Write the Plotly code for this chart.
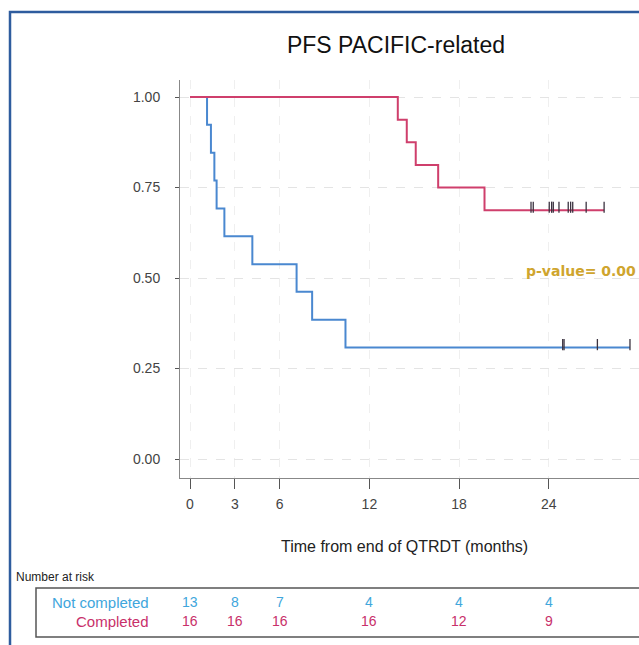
import plotly.graph_objects as go

# ---------------- data ----------------
nc_event_times = [0, 1.14, 1.40, 1.63, 1.78, 2.30, 4.17, 7.13, 8.17, 10.40]
nc_surv = [1.0, 0.923, 0.846, 0.769, 0.692, 0.615, 0.538, 0.462, 0.385, 0.308]
nc_censor_times = [24.93, 25.02, 27.25, 29.43]

c_event_times = [0, 13.9, 14.5, 15.1, 16.6, 19.7]
c_surv = [1.0, 0.9375, 0.875, 0.8125, 0.75, 0.6875]
c_censor_times = [22.81, 22.96, 24.03, 24.19, 24.30, 24.68, 25.30, 25.46, 25.60, 26.50, 27.70]

risk_times = [0, 3, 6, 12, 18, 24]
risk_not_completed = [13, 8, 7, 4, 4, 4]
risk_completed = [16, 16, 16, 16, 12, 9]

x_ticks = [0, 3, 6, 12, 18, 24]
y_ticks = [0, 0.25, 0.5, 0.75, 1.0]
y_tick_labels = ["0.00", "0.25", "0.50", "0.75", "1.00"]

group_names = ["Not completed", "Completed"]
title_text = "PFS PACIFIC-related"
x_title = "Time from end of QTRDT (months)"
p_text = "p-value= 0.00"

# ---------------- styles ----------------
BLUE = "#4a88d0"
RED = "#cf3f6c"
BLUE_TXT = "#40a6dc"
RED_TXT = "#c8306a"
FONT = "Liberation Sans, Arial, sans-serif"

W, H = 639, 645
L, R, T, B = 180, 0, 80, 167
PW, PH = W - L - R, H - T - B


def px_x(px):
    return (px - L) / PW


def px_y(py):
    return (H - B - py) / PH


def step_xy(times, surv, censors):
    xs = list(times) + [max(censors)]
    ys = list(surv) + [surv[-1]]
    return xs, ys


fig = go.Figure()

for times, surv, cens, col, name in [
    (nc_event_times, nc_surv, nc_censor_times, BLUE, group_names[0]),
    (c_event_times, c_surv, c_censor_times, RED, group_names[1]),
]:
    xs, ys = step_xy(times, surv, cens)
    fig.add_trace(go.Scatter(x=xs, y=ys, mode="lines", line=dict(color=col, width=2, shape="hv"),
                             name=name, showlegend=False, hoverinfo="skip"))
    fig.add_trace(go.Scatter(x=cens, y=[surv[-1] + 0.008] * len(cens), mode="markers",
                             marker=dict(symbol="line-ns", size=8,
                                         line=dict(width=1.3, color="#3b3340")),
                             showlegend=False, hoverinfo="skip"))

annotations = []
# p-value
annotations.append(dict(x=px_x(524), y=px_y(271), xref="paper", yref="paper", text="<b>" + p_text + "</b>",
                        showarrow=False, xanchor="left", yanchor="middle",
                        font=dict(family="DejaVu Sans, Verdana, sans-serif", size=14, color="#cfa52e")))
# x-axis title
annotations.append(dict(x=px_x(404), y=px_y(546), xref="paper", yref="paper", text=x_title,
                        showarrow=False, xanchor="center", yanchor="middle",
                        font=dict(family=FONT, size=16, color="#222")))
# number at risk
annotations.append(dict(x=px_x(14), y=px_y(577), xref="paper", yref="paper", text="Number at risk",
                        showarrow=False, xanchor="left", yanchor="middle",
                        font=dict(family=FONT, size=12, color="#222")))
# group labels
for name, py, col in [(group_names[0], 602, BLUE_TXT), (group_names[1], 621, RED_TXT)]:
    annotations.append(dict(x=px_x(151), y=px_y(py), xref="paper", yref="paper", text=name,
                            showarrow=False, xanchor="right", yanchor="middle",
                            font=dict(family=FONT, size=15, color=col)))
# risk numbers
for vals, py, col in [(risk_not_completed, 602, BLUE_TXT), (risk_completed, 621, RED_TXT)]:
    for t, v in zip(risk_times, vals):
        annotations.append(dict(x=t, y=px_y(py), xref="x", yref="paper", text=str(v),
                                showarrow=False, xanchor="center", yanchor="middle",
                                font=dict(family=FONT, size=14, color=col)))

shapes = [
    # risk table box
    dict(type="rect", xref="paper", yref="paper", x0=px_x(36), x1=px_x(660), y0=px_y(637), y1=px_y(588),
         line=dict(color="#555", width=1.5), fillcolor="rgba(0,0,0,0)", layer="above"),
    # outer blue frame
    dict(type="rect", xref="paper", yref="paper", x0=px_x(10), x1=px_x(700), y0=px_y(700), y1=px_y(12),
         line=dict(color="#2e5c9e", width=2.5), fillcolor="rgba(0,0,0,0)", layer="above"),
]

fig.update_layout(
    width=W, height=H,
    margin=dict(l=L, r=R, t=T, b=B, pad=0),
    paper_bgcolor="white", plot_bgcolor="white",
    title=dict(text=title_text, x=px_x(396), xref="paper", xanchor="center",
               y=1 - 45 / H, yref="container", yanchor="middle",
               font=dict(family=FONT, size=23, color="#111")),
    annotations=annotations,
    shapes=shapes,
    showlegend=False,
)

fig.update_xaxes(
    range=[(L - 190) / 14.95, (W - 190) / 14.95],
    tickvals=x_ticks, ticktext=[str(v) for v in x_ticks],
    ticks="outside", ticklen=10, tickcolor="#555", tickwidth=1,
    showline=True, linecolor="#888", linewidth=1,
    showgrid=True, gridcolor="#efefef", griddash="dash", gridwidth=1,
    zeroline=False,
    tickfont=dict(family=FONT, size=14, color="#444"),
    ticklabelstandoff=3,
)
fig.update_yaxes(
    range=[-19 / 362, 1 + 17 / 362],
    tickvals=y_ticks, ticktext=y_tick_labels,
    ticks="outside", ticklen=4, tickcolor="#555", tickwidth=1,
    showline=True, linecolor="#888", linewidth=1,
    showgrid=True, gridcolor="#e4e4e4", griddash="dash", gridwidth=1,
    zeroline=False,
    tickfont=dict(family=FONT, size=14, color="#444"),
    ticklabelstandoff=12,
)

fig.write_html("out.html")
